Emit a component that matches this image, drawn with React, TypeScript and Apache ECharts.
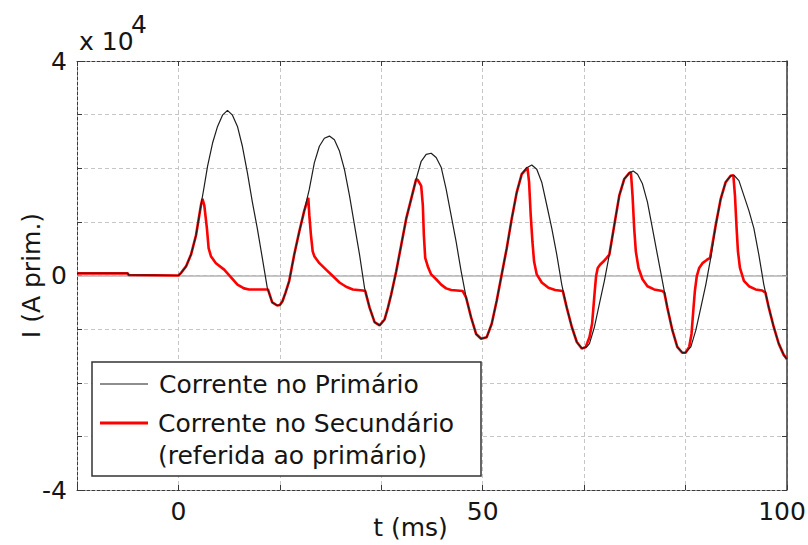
import React, { useEffect, useRef } from "react";
import * as echarts from "echarts";

// time (ms) and current (A, primary-referred)
const primaryCurrent: [number, number][] = [
  [-16.67, 400], [-8.3, 400], [-8.2, 100], [0, 0],
  [0.44, 500], [1.25, 1700], [2.07, 3900], [2.89, 7500], [3.7, 13100], [4.25, 16700], [4.79, 20400],
  [5.61, 24700], [6.43, 27800], [7.24, 29900], [8.06, 30800], [8.88, 29900], [9.7, 27800], [10.51, 24100],
  [11.33, 19200], [12.15, 13700], [12.96, 8800], [13.78, 3300], [14.6, -2300], [15.41, -5000], [16.23, -5600],
  [16.67, -5500], [17.1, -4800], [17.6, -3200], [18.21, -1000], [19.03, 3900], [19.86, 8200], [20.68, 12100],
  [21.51, 16100], [22.33, 21000], [23.16, 24100], [23.98, 25600], [24.81, 26000], [25.63, 25300], [26.46, 23200],
  [27.28, 19800], [28.11, 14900], [28.93, 9400], [29.76, 3900], [30.58, -2300], [31.41, -6000], [32.23, -8700],
  [33.06, -9300], [33.88, -8200], [34.43, -6000], [34.97, -3500], [35.79, 800], [36.61, 5700], [37.43, 10600],
  [38.25, 14300], [39.07, 18000], [39.89, 21300], [40.71, 22600], [41.53, 22800], [42.35, 22000], [43.17, 20200],
  [43.99, 16100], [44.81, 11200], [45.63, 6300], [46.45, 800], [47.27, -4100], [48.09, -7800], [48.91, -10900],
  [49.73, -11800], [50.66, -11500], [51.48, -9000], [52.3, -4700], [53.12, 200], [53.95, 5100], [54.77, 10600],
  [55.59, 15500], [56.41, 18900], [57.24, 20100], [58.06, 20600], [58.88, 19800], [59.7, 17400], [60.53, 13100],
  [61.35, 8800], [62.17, 3900], [62.99, -1700], [63.81, -6000], [64.64, -9600], [65.46, -12400], [66.28, -13600],
  [67.1, -13300], [67.54, -12700], [68.36, -9600], [69.17, -5300], [69.99, -1000], [70.81, 3900], [71.62, 9400],
  [72.44, 14900], [73.26, 18000], [74.07, 19100], [74.73, 19500], [75.44, 18900], [76.25, 17100], [77.07, 13700],
  [77.89, 8800], [78.7, 3900], [79.52, -1000], [80.34, -6000], [81.16, -10200], [81.97, -13300], [82.79, -14400],
  [83.33, -14400], [84.2, -13300], [85.02, -10200], [85.84, -6000], [86.66, -1700], [87.47, 3300], [88.29, 9400],
  [89.11, 14300], [89.92, 17400], [90.74, 18600], [91.29, 18700], [92.1, 17700], [92.92, 14900], [93.74, 12100],
  [94.56, 8800], [95.37, 3900], [96.19, -1700], [97.01, -6000], [97.82, -9600], [98.64, -12700], [99.46, -14800],
  [100, -15600],
];

const secondaryCurrent: [number, number][] = [
  [-16.67, 400], [-8.3, 400], [-8.2, 100], [0, 0],
  [0.44, 500], [1.25, 1700], [2.07, 3900], [2.89, 7500], [3.7, 13100], [3.95, 14300], [4.25, 13100],
  [4.68, 8800], [4.96, 5100], [5.34, 3600], [6.16, 2300], [7.52, 1100], [8.61, -300], [9.7, -1700],
  [10.78, -2400], [11.6, -2600], [14.33, -2600], [14.71, -2600], [15.41, -5000], [16.23, -5600], [16.67, -5500],
  [17.1, -4800], [17.6, -3200], [18.21, -1000], [19.03, 3900], [19.86, 8200], [20.68, 12100], [21.34, 14500],
  [21.51, 11200], [21.78, 7500], [22.06, 4500], [22.33, 3600], [23.16, 2300], [24.26, 1100], [25.36, -100],
  [26.46, -1300], [27.56, -2100], [28.66, -2600], [30.31, -2800], [30.7, -2900], [31.41, -6000], [32.23, -8700],
  [33.06, -9300], [33.88, -8200], [34.43, -6000], [34.97, -3500], [35.79, 800], [36.61, 5700], [37.43, 10600],
  [38.25, 14300], [39.07, 18000], [39.34, 17800], [39.89, 16700], [40.16, 13100], [40.33, 7500], [40.55, 3300],
  [40.98, 1700], [41.53, 200], [42.35, -700], [43.17, -1700], [43.99, -2400], [44.81, -2700], [46.72, -2900],
  [47.27, -4100], [48.09, -7800], [48.91, -10900], [49.73, -11800], [50.66, -11500], [51.48, -9000], [52.3, -4700],
  [53.12, 200], [53.95, 5100], [54.77, 10600], [55.59, 15500], [56.41, 18900], [57.35, 20100], [57.62, 17400],
  [57.89, 11200], [58.17, 6300], [58.44, 2600], [58.88, 200], [59.7, -1300], [60.8, -2300], [61.9, -2700],
  [63.16, -2900], [63.81, -6000], [64.64, -9600], [65.46, -12400], [66.28, -13600], [66.9, -13400], [67.54, -11500],
  [67.97, -9000], [68.19, -6000], [68.41, -2900], [68.63, -100], [68.9, 1400], [69.28, 2000], [69.83, 2600],
  [70.37, 3300], [70.81, 3900], [71.62, 9400], [72.44, 14900], [73.26, 18000], [74.07, 19100], [74.35, 19300],
  [74.62, 14900], [74.89, 8800], [75.16, 4500], [75.6, 1400], [76.25, -700], [77.07, -2000], [78.16, -2600],
  [79.52, -2900], [79.85, -3200], [80.34, -6000], [81.16, -10200], [81.97, -13300], [82.79, -14400], [83.33, -14400],
  [83.93, -13300], [84.31, -10900], [84.64, -6000], [84.86, -2900], [85.18, -100], [85.57, 1400], [86.11, 2300],
  [86.82, 2900], [87.36, 3300], [88.29, 9400], [89.11, 14300], [89.92, 17400], [90.74, 18600], [91.18, 18700],
  [91.45, 14900], [91.72, 8800], [91.94, 4500], [92.27, 1400], [92.92, -1000], [93.74, -2000], [94.83, -2600],
  [95.92, -2800], [96.46, -3200], [97.01, -6000], [97.82, -9600], [98.64, -12700], [99.46, -14800], [100, -15600],
];

const seriesNames = ["Corrente no Primário", "Corrente no Secundário", "(referida ao primário)"];
const xLabelValues = [0, 50, 100];
const yLabelValues = [-40000, 0, 40000];
const xAxisTitle = "t (ms)";
const yAxisTitle = "I (A prim.)";
const yScaleText = "x 10";
const yScaleExp = "4";

const FONT = "DejaVu Sans";
const TXT = "#151515";
const AX = "#3a3a3a";

export default function App() {
  const ref = useRef<HTMLDivElement>(null);
  useEffect(() => {
    if (!ref.current) return;
    const chart = echarts.init(ref.current, undefined, { renderer: "svg" });
    const period = 50 / 3;
    const baseX = {
      type: "value" as const,
      min: -period,
      max: 100,
      interval: period,
    };
    const baseY = {
      type: "value" as const,
      min: -40000,
      max: 40000,
      interval: 10000,
    };
    chart.setOption({
      animation: false,
      backgroundColor: "#ffffff",
      grid: { left: 77, right: 21, top: 61, bottom: 55, outerBoundsMode: "none", containLabel: false },
      xAxis: [
        {
          ...baseX,
          position: "bottom",
          axisLine: { show: true, onZero: false, lineStyle: { color: AX, type: [3, 2], width: 1 } },
          axisTick: { show: true, inside: true, length: 5, lineStyle: { color: AX } },
          axisLabel: {
            fontSize: 25,
            fontFamily: FONT,
            color: TXT,
            margin: 9,
            showMinLabel: true,
            showMaxLabel: true,
            formatter: (v: number) => {
              const r = Math.round(v);
              if (Math.abs(v - r) < 0.01 && xLabelValues.includes(r)) {
                return r === 100 ? "{r|100}" : String(r);
              }
              return "";
            },
            rich: { r: { fontSize: 25, fontFamily: FONT, color: TXT, padding: [0, 10, 0, 0] } },
          },
          splitLine: { show: true, lineStyle: { color: "#c6c6c6", type: [4, 3], width: 1 } },
          name: xAxisTitle,
          nameLocation: "middle",
          nameGap: 25,
          nameMoveOverlap: false,
          nameTextStyle: { fontSize: 25, fontFamily: FONT, color: TXT, padding: [0, 43, 0, 0] },
        },
        {
          ...baseX,
          position: "top",
          axisLine: { show: true, onZero: false, lineStyle: { color: AX, type: [3, 2], width: 1 } },
          axisTick: { show: true, inside: true, length: 5, lineStyle: { color: AX } },
          axisLabel: { show: false },
          splitLine: { show: false },
        },
      ],
      yAxis: [
        {
          ...baseY,
          position: "left",
          axisLine: { show: true, onZero: false, lineStyle: { color: AX, type: [3, 2], width: 1 } },
          axisTick: { show: true, inside: true, length: 5, lineStyle: { color: AX } },
          axisLabel: {
            fontSize: 25,
            fontFamily: FONT,
            color: TXT,
            margin: 10,
            formatter: (v: number) => (yLabelValues.includes(v) ? String(v / 10000) : ""),
          },
          splitLine: { show: true, lineStyle: { color: "#c6c6c6", type: [4, 3], width: 1 } },
          name: yAxisTitle,
          nameLocation: "middle",
          nameGap: 33,
          nameMoveOverlap: false,
          nameTextStyle: { fontSize: 25, fontFamily: FONT, color: TXT },
        },
        {
          ...baseY,
          position: "right",
          axisLine: { show: true, onZero: false, lineStyle: { color: AX, type: "solid", width: 1.5 } },
          axisTick: { show: true, inside: true, length: 5, lineStyle: { color: AX } },
          axisLabel: { show: false },
          splitLine: { show: false },
        },
      ],
      series: [
        {
          name: seriesNames[1],
          type: "line",
          data: secondaryCurrent,
          showSymbol: false,
          symbol: "none",
          z: 3,
          lineStyle: { color: "#ff0000", width: 2.6 },
          markLine: {
            silent: true,
            symbol: "none",
            label: { show: false },
            lineStyle: { color: "#b4b4b4", type: "solid", width: 1.5 },
            data: [{ yAxis: 0 }],
            z: 1,
          },
        },
        {
          name: seriesNames[0],
          type: "line",
          data: primaryCurrent,
          showSymbol: false,
          symbol: "none",
          z: 4,
          lineStyle: { color: "#1e1e1e", width: 1.2 },
        },
      ],
      graphic: [
        {
          type: "text",
          x: 79,
          y: 41,
          z: 100,
          style: { text: yScaleText, fontSize: 25, fontFamily: FONT, fill: TXT, verticalAlign: "middle" },
        },
        {
          type: "text",
          x: 131,
          y: 24,
          z: 100,
          style: { text: yScaleExp, fontSize: 25, fontFamily: FONT, fill: TXT, verticalAlign: "middle" },
        },
        {
          type: "group",
          z: 100,
          children: [
            {
              type: "rect",
              z: 100,
              shape: { x: 92, y: 362, width: 389, height: 114 },
              style: { fill: "#ffffff", stroke: "#333333", lineWidth: 1.5 },
            },
            {
              type: "line",
              z: 101,
              shape: { x1: 100, y1: 384, x2: 148, y2: 384 },
              style: { stroke: "#1e1e1e", lineWidth: 1.2 },
            },
            {
              type: "line",
              z: 101,
              shape: { x1: 100, y1: 423, x2: 148, y2: 423 },
              style: { stroke: "#ff0000", lineWidth: 3 },
            },
            {
              type: "text",
              z: 101,
              x: 159,
              y: 384,
              style: { text: seriesNames[0], fontSize: 25, fontFamily: FONT, fill: TXT, verticalAlign: "middle" },
            },
            {
              type: "text",
              z: 101,
              x: 158,
              y: 423,
              style: { text: seriesNames[1], fontSize: 25, fontFamily: FONT, fill: TXT, verticalAlign: "middle" },
            },
            {
              type: "text",
              z: 101,
              x: 158,
              y: 455,
              style: { text: seriesNames[2], fontSize: 25, fontFamily: FONT, fill: TXT, verticalAlign: "middle" },
            },
          ],
        },
      ],
    });
    return () => chart.dispose();
  }, []);
  return (
    <div
      ref={ref}
      style={{ position: "fixed", left: 0, top: 0, width: 808, height: 545, background: "#fff" }}
    />
  );
}
